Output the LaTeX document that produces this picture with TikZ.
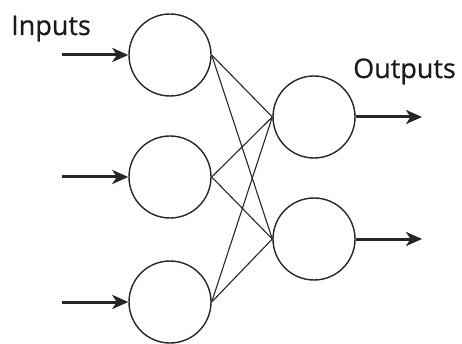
\documentclass[tikz,border=0pt]{standalone}
\usepackage{fontspec}
\setmainfont{Open Sans}
\newfontfamily\lblfont[FakeBold=0.6]{Open Sans}
\usetikzlibrary{arrows.meta}
\begin{document}
\begin{tikzpicture}[x=1pt,y=-1pt,
  neuron/.style={circle,draw=black!85,line width=1.4pt,minimum size=82pt,inner sep=0pt},
  inarrow/.style={line width=3pt,draw=black!85,-{Stealth[length=16pt,width=14pt,inset=4.5pt]}},
  link/.style={line width=1.1pt,draw=black!85},
  lbl/.style={font=\lblfont\fontsize{27}{30}\selectfont,text=black!90,inner sep=0pt,anchor=base west}]
\useasboundingbox (0,0) rectangle (462,344);
\node[neuron] (i1) at (170,55) {};
\node[neuron] (i2) at (170,177) {};
\node[neuron] (i3) at (170,302) {};
\node[neuron] (o1) at (314,117) {};
\node[neuron] (o2) at (314,239) {};
\coordinate (s1) at (62,55);
\coordinate (s2) at (62,177);
\coordinate (s3) at (62,302);
\coordinate (e1) at (422,117);
\coordinate (e2) at (422,239);
\draw[inarrow] (s1) -- (i1.west);
\draw[inarrow] (s2) -- (i2.west);
\draw[inarrow] (s3) -- (i3.west);
\draw[inarrow] (o1.east) -- (e1);
\draw[inarrow] (o2.east) -- (e2);
\foreach \a in {i1,i2,i3}{
  \foreach \b in {o1,o2}{
    \draw[link] (\a.east) -- (\b.west);
  }
}
\node[lbl] (tin) at (11,35) {Inputs};
\node[lbl] (tout) at (353,78) {Outputs};
\end{tikzpicture}
\end{document}
